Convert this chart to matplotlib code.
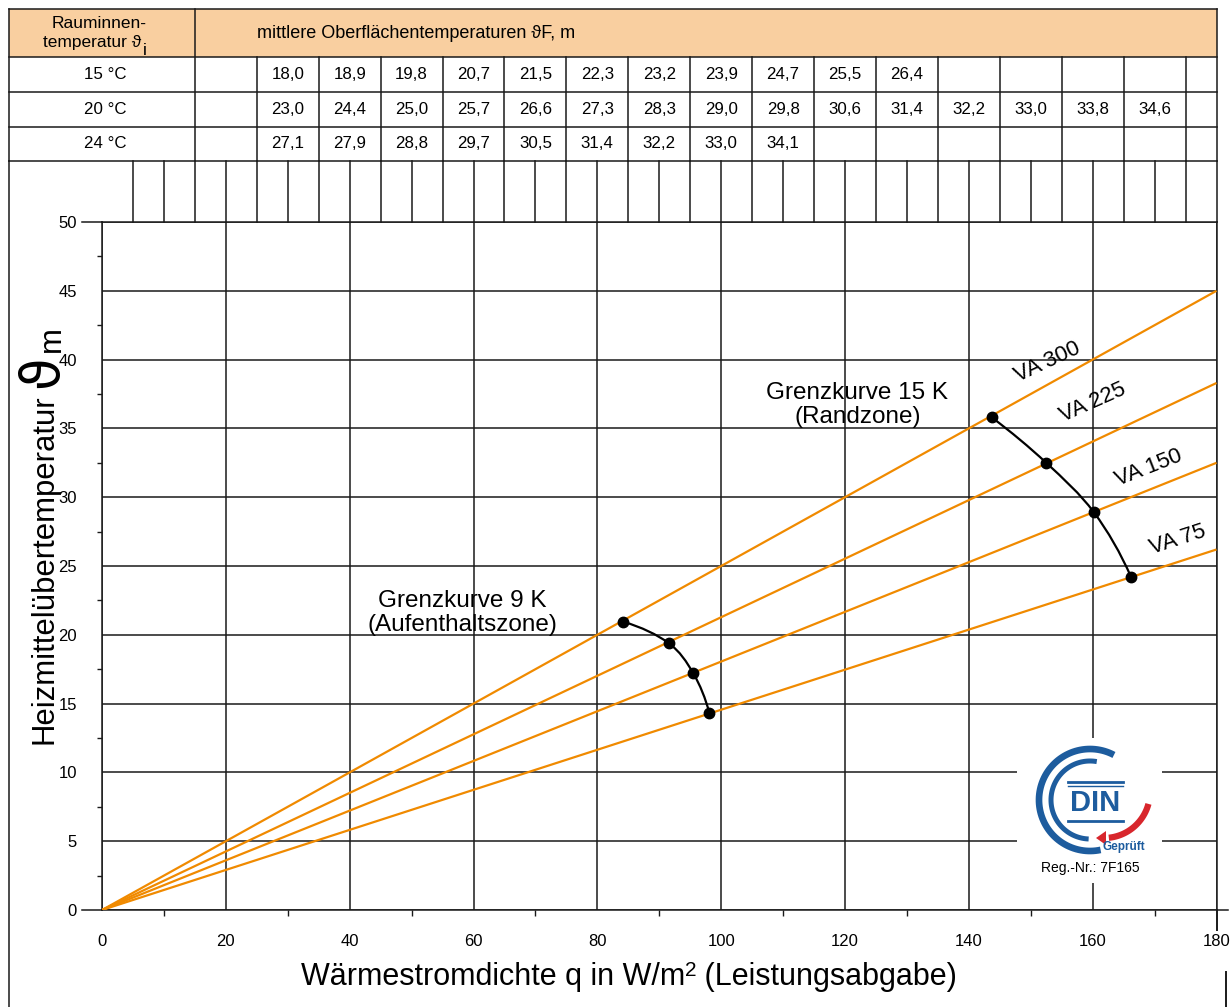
import numpy as np
import matplotlib
matplotlib.use("Agg")
import matplotlib.pyplot as plt
from matplotlib.path import Path
from matplotlib.patches import PathPatch, Rectangle, Polygon
from matplotlib.lines import Line2D

plt.rcParams['font.family'] = ['Liberation Sans', 'DejaVu Sans']

W, H = 1232, 1007

# ---- data ----
va_labels = ['VA 300', 'VA 225', 'VA 150', 'VA 75']
va_end = [45.0, 38.3, 32.5, 26.2]          # Heizmitteluebertemperatur at q = 180
va_label_q = [152.7, 160.1, 169.0, 173.8]
va_label_t = [39.8, 36.9, 32.1, 26.9]

g9_q = [84.2, 91.5, 95.5, 98.1]
g9_t = [20.95, 19.4, 17.2, 14.3]
g15_q = [143.7, 152.5, 160.2, 166.2]
g15_t = [35.8, 32.5, 28.9, 24.2]

room_temps = ['15 °C', '20 °C', '24 °C']
table_q = [30, 40, 50, 60, 70, 80, 90, 100, 110, 120, 130, 140, 150, 160, 170]
surf_15 = [18.0, 18.9, 19.8, 20.7, 21.5, 22.3, 23.2, 23.9, 24.7, 25.5, 26.4]
surf_20 = [23.0, 24.4, 25.0, 25.7, 26.6, 27.3, 28.3, 29.0, 29.8, 30.6, 31.4, 32.2, 33.0, 33.8, 34.6]
surf_24 = [27.1, 27.9, 28.8, 29.7, 30.5, 31.4, 32.2, 33.0, 34.1]

x_ticks = list(range(0, 181, 20))
y_ticks = list(range(0, 51, 5))

orange = '#f08a00'
ink = '#1a1a1a'
head_fill = '#f9cfa0'
blue = '#1d5c9e'
red = '#d8262c'

fig = plt.figure(figsize=(W / 100, H / 100), dpi=100)


def fx(px):
    return px / W


def fy(py):
    return 1 - py / H


# main chart: q 0..180 -> px 102..1216.5, t 0..50 -> px 910..222
x0, x1, y0, y1 = 102, 1216.5, 910, 222
ax = fig.add_axes([fx(x0), fy(y0), (x1 - x0) / W, (y0 - y1) / H])
ax.set_xlim(0, 180)
ax.set_ylim(0, 50)

for end in va_end:
    ax.plot([0, 180], [0, end], color=orange, lw=1.6, zorder=3, solid_capstyle='butt')


def smooth(qs, ts):
    # catmull-rom through the given points, drawn as bezier segments
    p = np.column_stack([qs, ts])
    n = len(p)
    tang = np.zeros_like(p)
    for i in range(n):
        if i == 0:
            tang[i] = (-3 * p[0] + 4 * p[1] - p[2]) / 2
        elif i == n - 1:
            tang[i] = (3 * p[-1] - 4 * p[-2] + p[-3]) / 2
        else:
            tang[i] = (p[i + 1] - p[i - 1]) / 2
    verts = [p[0]]
    codes = [Path.MOVETO]
    for i in range(n - 1):
        verts += [p[i] + tang[i] / 3, p[i + 1] - tang[i + 1] / 3, p[i + 1]]
        codes += [Path.CURVE4] * 3
    return Path(verts, codes)


for qs, ts in [(g9_q, g9_t), (g15_q, g15_t)]:
    ax.add_patch(PathPatch(smooth(qs, ts), fc='none', ec='black', lw=1.6, zorder=4))
    ax.plot(qs, ts, 'o', color='black', ms=7.5, zorder=5)

va_rot = [25, 24, 21.5, 18]
for lab, q, t, rot in zip(va_labels, va_label_q, va_label_t, va_rot):
    ax.text(q, t, lab, fontsize=16, rotation=rot, rotation_mode='anchor',
            ha='center', va='center', zorder=6)

ax.text(122, 36.7, 'Grenzkurve 15 K\n(Randzone)', fontsize=17.5, ha='center',
        va='center', linespacing=1.1, zorder=6)
ax.text(58.2, 21.6, 'Grenzkurve 9 K\n(Aufenthaltszone)', fontsize=17.5, ha='center',
        va='center', linespacing=1.1, zorder=6)

ax.set_xticks(x_ticks)
ax.set_yticks(y_ticks)
ax.set_xticks(np.arange(10, 180, 20), minor=True)
ax.set_yticks(np.arange(2.5, 50, 5), minor=True)
ax.grid(True, which='major', color=ink, lw=1.1)
ax.set_axisbelow(True)
ax.tick_params(which='major', length=0, labelsize=12)
ax.tick_params(axis='x', which='major', pad=17)
ax.tick_params(axis='y', which='major', pad=18)
ax.tick_params(axis='x', which='minor', length=4.5, width=1.0, color=ink)
ax.tick_params(axis='y', which='minor', length=3.8, width=1.0, color=ink)
for s in ax.spines.values():
    s.set_color(ink)
    s.set_linewidth(1.1)

# axis extensions
ax.plot([-3.25, 0], [0, 0], color=ink, lw=1.1, clip_on=False)
ax.plot([-3.25, 0], [50, 50], color=ink, lw=1.1, clip_on=False)
ax.plot([180, 181.8], [0, 0], color=ink, lw=1.1, clip_on=False)
ax.plot([180, 180], [0, -1.45], color=ink, lw=1.4, clip_on=False)

# ---- table above the chart, same q scale ----
tl = x0 - 15 * (x1 - x0) / 180
ax_t = fig.add_axes([fx(tl), fy(222), (x1 - tl) / W, (222 - 9) / H])
ax_t.set_xlim(-15, 180)
ax_t.set_ylim(222, 9)
ax_t.set_axis_off()

tkw = dict(color=ink, lw=1.1, clip_on=False, solid_capstyle='projecting')
ax_t.add_patch(Rectangle((-15, 9), 195, 48, fc=head_fill, ec='none', clip_on=False))
for yy in [9, 57, 92, 127, 161]:
    ax_t.plot([-15, 180], [yy, yy], **tkw)
for xx in [-15, 15, 180]:
    ax_t.plot([xx, xx], [9, 161], **tkw)
for xx in range(25, 180, 10):
    ax_t.plot([xx, xx], [57, 161], **tkw)
for xx in range(5, 181, 5):
    ax_t.plot([xx, xx], [161, 222], **tkw)

fs_h = 12.5
fs_t = 12.2
ax_t.text(-0.5, 23, 'Rauminnen-', fontsize=fs_h, ha='center', va='center')
t_a = ax_t.text(-9.5, 42.5, 'temperatur ϑ', fontsize=fs_h, ha='left', va='center')
ax_t.text(25, 33, 'mittlere Oberflächentemperaturen ϑF, m', fontsize=13,
          ha='left', va='center')

row_y = [74.5, 109.5, 144]
for lab, yy, vals in zip(room_temps, row_y, [surf_15, surf_20, surf_24]):
    ax_t.text(0.6, yy, lab, fontsize=fs_t, ha='center', va='center')
    for q, v in zip(table_q, vals):
        ax_t.text(q, yy, f'{v:.1f}'.replace('.', ','), fontsize=fs_t,
                  ha='center', va='center')

# left border running down the page, and the small mark bottom right
fig.add_artist(Line2D([fx(tl), fx(tl)], [fy(161), fy(1007)], color=ink, lw=1.1))
fig.add_artist(Line2D([fx(1226), fx(1226)], [fy(972), fy(1007)], color=ink, lw=1.4))

r = fig.canvas.get_renderer()

# subscript i after "temperatur ϑ"
bb = t_a.get_window_extent(r)
fig.text((bb.x1 + 1) / W, fy(50.5), 'i', fontsize=fs_h, ha='left', va='center')

# ---- axis labels ----
lab_fs = 22.4
ty = fig.text(fx(52), fy(744), 'Heizmittelübertemperatur', fontsize=lab_fs, rotation=90,
              rotation_mode='anchor', ha='left', va='baseline')
bb = ty.get_window_extent(r)
tv = fig.text(fx(57), (bb.y1 + 6) / H, 'ϑ', fontsize=38, rotation=90,
              rotation_mode='anchor', ha='left', va='baseline',
              family=['DejaVu Sans'])
bb2 = tv.get_window_extent(r)
fig.text(fx(60), (bb2.y1 + 4) / H, 'm', fontsize=lab_fs, rotation=90,
         rotation_mode='anchor', ha='left', va='baseline')

pieces = [('Wärmestromdichte q in W/m', 22, 0), ('2', 15, 9),
          (' (Leistungsabgabe)', 22, 0)]
arts = []
for s, size, dy in pieces:
    t = fig.text(0, 0, s, fontsize=size, ha='left', va='baseline')
    arts.append((t, dy))
widths = [t.get_window_extent(r).width for t, _ in arts]
xs = 629 - sum(widths) / 2
for (t, dy), w in zip(arts, widths):
    t.set_position((xs / W, fy(985 - dy)))
    xs += w

# ---- DIN logo ----
lx0, lx1, ly0, ly1 = 1017, 1162, 738, 883
ax_l = fig.add_axes([fx(lx0), fy(ly1), (lx1 - lx0) / W, (ly1 - ly0) / H])
ax_l.set_xlim(lx0, lx1)
ax_l.set_ylim(ly1, ly0)
ax_l.set_xticks([])
ax_l.set_yticks([])
for s in ax_l.spines.values():
    s.set_visible(False)
ax_l.set_facecolor('white')
ax_l.set_zorder(5)


def arc(cx, cy, rad, a0, a1):
    a = np.radians(np.linspace(a0, a1, 80))
    return cx + rad * np.cos(a), cy - rad * np.sin(a)


ax_l.plot(*arc(1090, 800, 51, 62, 282), color=blue, lw=4.8, solid_capstyle='butt')
ax_l.plot(*arc(1090, 800, 39, 80, 268), color=blue, lw=3.6, solid_capstyle='butt')
ax_l.plot(*arc(1104, 792, 46, -15, -84), color=red, lw=4.5, solid_capstyle='butt')
ax_l.add_patch(Polygon([[1106, 831], [1106, 845], [1096, 838]], closed=True, fc=red, ec='none'))
ax_l.plot([1068, 1123], [782, 782], color=blue, lw=2)
ax_l.plot([1068, 1123], [786, 786], color=blue, lw=1)
ax_l.plot([1068, 1123], [821, 821], color=blue, lw=2)
ax_l.text(1095.5, 803, 'DIN', fontsize=21, fontweight='bold', color=blue,
          ha='center', va='center')
ax_l.text(1124, 847, 'Geprüft', fontsize=8.5, fontweight='bold', color=blue,
          ha='center', va='center')
ax_l.text(1090, 868, 'Reg.-Nr.: 7F165', fontsize=10, ha='center', va='center')

fig.savefig('out.png', dpi=100)
